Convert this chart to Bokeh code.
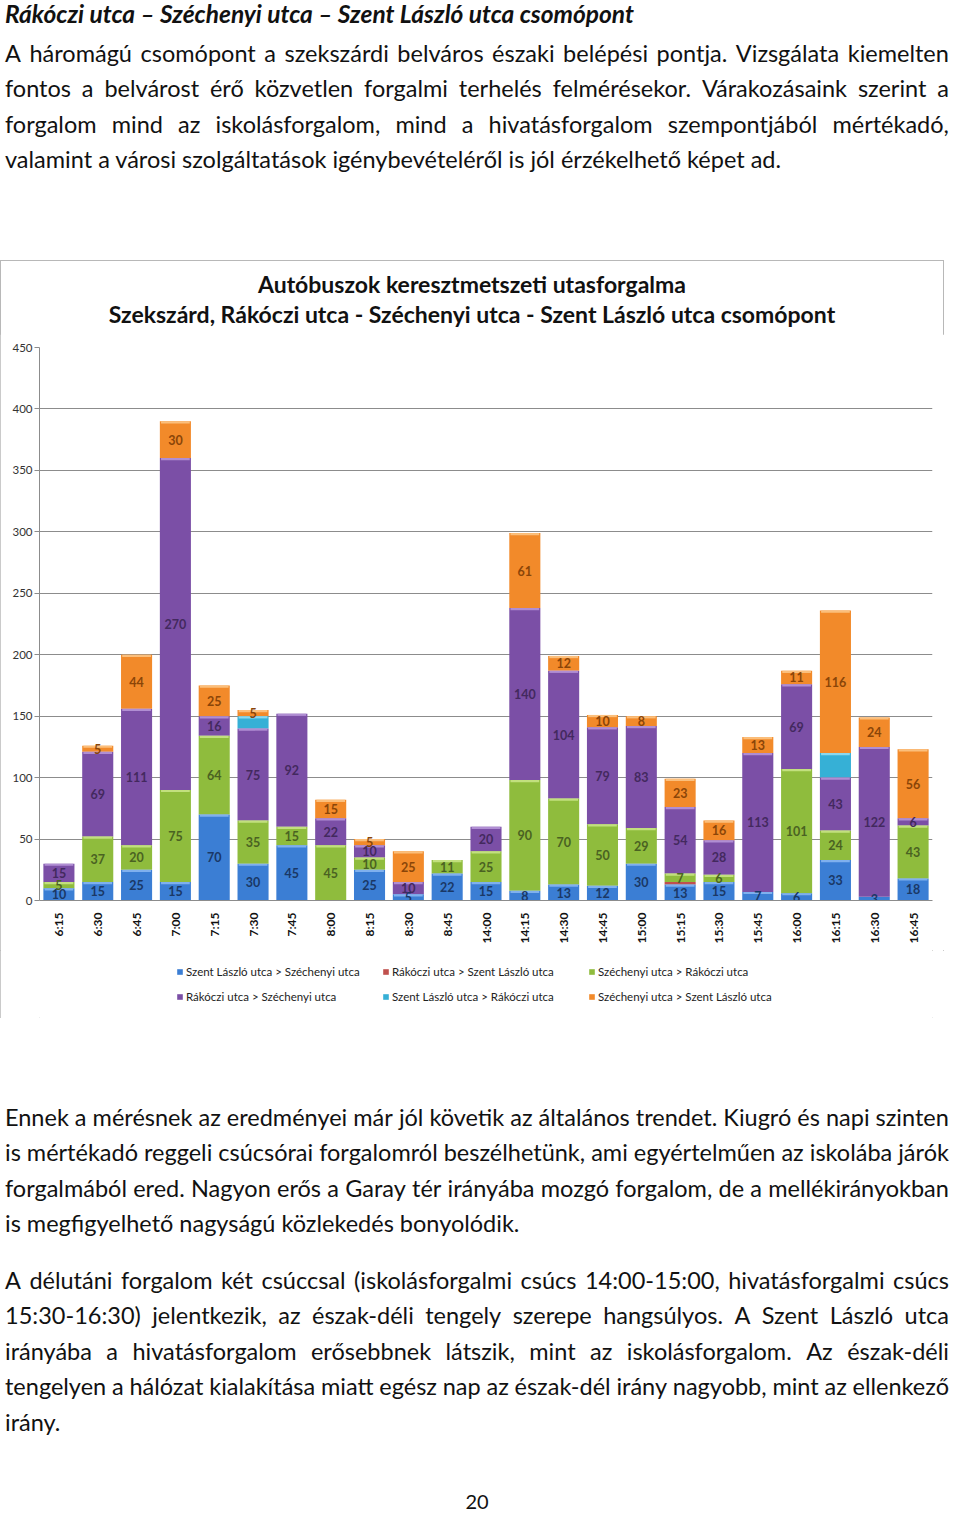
import numpy as np
from bokeh.plotting import figure
from bokeh.models import ColumnDataSource, Div, Legend, LegendItem
from bokeh.layouts import column
from bokeh.embed import file_html
from bokeh.resources import INLINE
from bokeh.core.properties import value

# ---------------- data ----------------
times = ["6:15", "6:30", "6:45", "7:00", "7:15", "7:30", "7:45", "8:00", "8:15", "8:30", "8:45",
         "14:00", "14:15", "14:30", "14:45", "15:00", "15:15", "15:30", "15:45", "16:00", "16:15", "16:30", "16:45"]

szl_szech = [10, 15, 25, 15, 70, 30, 45, 0, 25, 5, 22, 15, 8, 13, 12, 30, 13, 15, 7, 6, 33, 3, 18]
rak_szl   = [0, 0, 0, 0, 0, 0, 0, 0, 0, 0, 0, 0, 0, 0, 0, 0, 2, 0, 0, 0, 0, 0, 0]
szech_rak = [5, 37, 20, 75, 64, 35, 15, 45, 10, 0, 11, 25, 90, 70, 50, 29, 7, 6, 0, 101, 24, 0, 43]
rak_szech = [15, 69, 111, 270, 16, 75, 92, 22, 10, 10, 0, 20, 140, 104, 79, 83, 54, 28, 113, 69, 43, 122, 6]
szl_rak   = [0, 0, 0, 0, 0, 10, 0, 0, 0, 0, 0, 0, 0, 0, 0, 0, 0, 0, 0, 0, 20, 0, 0]
szech_szl = [0, 5, 44, 30, 25, 5, 0, 15, 5, 25, 0, 0, 61, 12, 10, 8, 23, 16, 13, 11, 116, 24, 56]

series_keys = ["szl_szech", "rak_szl", "szech_rak", "rak_szech", "szl_rak", "szech_szl"]
series_vals = [szl_szech, rak_szl, szech_rak, rak_szech, szl_rak, szech_szl]
series_names = ["Szent László utca > Széchenyi utca", "Rákóczi utca > Szent László utca",
                "Széchenyi utca > Rákóczi utca", "Rákóczi utca > Széchenyi utca",
                "Szent László utca > Rákóczi utca", "Széchenyi utca > Szent László utca"]
series_labeled = [True, False, True, True, False, True]

y_ticks = [0, 50, 100, 150, 200, 250, 300, 350, 400, 450]

chart_title_1 = "Autóbuszok keresztmetszeti utasforgalma"
chart_title_2 = "Szekszárd, Rákóczi utca - Széchenyi utca - Szent László utca csomópont"

heading = "Rákóczi utca – Széchenyi utca – Szent László utca csomópont"
para1 = ["A háromágú csomópont a szekszárdi belváros északi belépési pontja. Vizsgálata kiemelten",
         "fontos a belvárost érő közvetlen forgalmi terhelés felmérésekor. Várakozásaink szerint a",
         "forgalom mind az iskolásforgalom, mind a hivatásforgalom szempontjából mértékadó,",
         "valamint a városi szolgáltatások igénybevételéről is jól érzékelhető képet ad."]
para2 = ["Ennek a mérésnek az eredményei már jól követik az általános trendet. Kiugró és napi szinten",
         "is mértékadó reggeli csúcsórai forgalomról beszélhetünk, ami egyértelműen az iskolába járók",
         "forgalmából ered. Nagyon erős a Garay tér irányába mozgó forgalom, de a mellékirányokban",
         "is megfigyelhető nagyságú közlekedés bonyolódik."]
para3 = ["A délutáni forgalom két csúccsal (iskolásforgalmi csúcs 14:00-15:00, hivatásforgalmi csúcs",
         "15:30-16:30) jelentkezik, az észak-déli tengely szerepe hangsúlyos. A Szent László utca",
         "irányába a hivatásforgalom erősebbnek látszik, mint az iskolásforgalom. Az észak-déli",
         "tengelyen a hálózat kialakítása miatt egész nap az észak-dél irány nagyobb, mint az ellenkező",
         "irány."]
page_no = "20"

# ---------------- styles ----------------
colors = ["#3b7ed4", "#c0504d", "#8fbc3d", "#7b4fa6", "#36b0d6", "#f28a2a"]
highlights = ["#7fb0ee", "#e08a88", "#c2e07e", "#b08ed3", "#8ad8ef", "#fbbf7c"]
label_colors = ["#1a3866", "#7a2020", "#4a6222", "#43295e", "#1d5f73", "#8a4508"]
FONT = "Lato"
W = 944
HT = 74       # chart title strip height
HC = 616      # chart figure height
HL = 68       # legend strip height
BL, BR, BT, BB = 39, 12, 13, 50
legend_pos = [(137, 40), (343, 40), (549, 40), (137, 15), (343, 15), (549, 15)]


def line_html(text, top, L, css, justify):
    base = f"position:absolute;left:0;top:{top}px;width:{W}px;height:{L}px;line-height:{L}px;white-space:nowrap;{css}"
    if justify:
        spans = "".join(f"<span>{w}</span>" for w in text.split(" "))
        return f'<div style="{base}display:flex;justify-content:space-between;">{spans}</div>'
    return f'<div style="{base}">{text}</div>'


def block(lines, first_top, L, css):
    out = []
    for i, t in enumerate(lines):
        out.append(line_html(t, first_top + i * L, L, css, i < len(lines) - 1))
    return "".join(out)


# ---------------- top text ----------------
txt_css = f"font-family:{FONT};font-size:23.5px;color:#111;"
html1 = '<div style="position:relative;width:944px;height:250px;">'
html1 += line_html(heading, 0, 18, f"font-family:{FONT};font-size:24.5px;font-weight:bold;font-style:italic;color:#111;", False)
html1 += block(para1, 30.5, 35.5, txt_css)
html1 += "</div>"
div1 = Div(text=html1, width=W, height=250)

# ---------------- chart title strip ----------------
ttl_css = f"font-family:{FONT};font-size:23px;font-weight:bold;color:#111;text-align:center;"
html_t = f'<div style="position:relative;width:{W}px;height:{HT}px;">'
html_t += line_html(chart_title_1, 9, 30, ttl_css, False)
html_t += line_html(chart_title_2, 39, 30, ttl_css, False)
html_t += "</div>"
title_div = Div(text=html_t, width=W, height=HT, margin=0)

# ---------------- chart ----------------
p = figure(x_range=times, y_range=(0, 450), width=W, height=HC,
           output_backend="svg", toolbar_location=None,
           min_border_left=BL, min_border_right=BR, min_border_top=BT, min_border_bottom=BB)

src = ColumnDataSource(dict(t=times, **{k: v for k, v in zip(series_keys, series_vals)}))
rs = p.vbar_stack(series_keys, x="t", width=0.8, source=src, color=colors, line_color=None)

cum = np.zeros(len(times))
for vals, lc, hc, show in zip(series_vals, label_colors, highlights, series_labeled):
    v = np.array(vals, dtype=float)
    top = cum + v
    mid = cum + v / 2
    hi = [i for i in range(len(times)) if v[i] >= 4]
    p.vbar(x=[times[i] for i in hi], top=[top[i] for i in hi], bottom=[top[i] - 1.8 for i in hi],
           width=0.74, color=hc, line_color=None)
    if show:
        idx = [i for i in range(len(times)) if v[i] > 0]
        p.text(x=[times[i] for i in idx], y=[mid[i] for i in idx], text=[str(int(v[i])) for i in idx],
               text_align="center", text_baseline="middle", text_color=lc,
               text_font=value(FONT), text_font_size="12.5px", text_font_style="bold")
    cum += v

p.outline_line_color = None
p.xgrid.grid_line_color = None
p.ygrid.grid_line_color = "#8c8c8c"
p.ygrid.grid_line_width = 1
p.yaxis.ticker = y_ticks
p.yaxis.axis_line_color = "#8c8c8c"
p.yaxis.major_tick_line_color = "#8c8c8c"
p.yaxis.major_tick_in = 0
p.yaxis.major_tick_out = 5
p.yaxis.minor_tick_line_color = None
p.yaxis.major_label_standoff = 2
p.yaxis.major_label_text_font = FONT
p.yaxis.major_label_text_font_size = "11.5px"
p.yaxis.major_label_text_color = "#333"
p.xaxis.axis_line_color = "#8c8c8c"
p.xaxis.major_tick_line_color = None
p.xaxis.major_label_orientation = np.pi / 2
p.xaxis.major_label_text_font = FONT
p.xaxis.major_label_text_font_size = "12px"
p.xaxis.major_label_text_font_style = "bold"
p.xaxis.major_label_text_color = "#111"
p.xaxis.major_label_standoff = 6

# ---------------- legend strip ----------------
pl = figure(width=W, height=HL, x_range=(0, 1), y_range=(0, 1), output_backend="svg",
            toolbar_location=None, min_border=0, x_axis_type=None, y_axis_type=None)
pl.outline_line_color = None
# swatch renderers sit outside the visible range; they only feed the legend glyphs
dummies = [pl.vbar(x=[5], top=[5], bottom=[4], width=0.5, color=c, line_color=None) for c in colors]
for i, (lx, ly) in enumerate(legend_pos):
    lg = Legend(items=[LegendItem(label=series_names[i], renderers=[dummies[i]])],
                location=(lx, ly), orientation="horizontal",
                glyph_width=7, glyph_height=7, label_height=14, label_standoff=3,
                label_text_font=FONT, label_text_font_size="11.5px", label_text_color="#222",
                border_line_color=None, background_fill_alpha=0, margin=0, padding=0)
    pl.add_layout(lg)

chart_box = column(title_div, p, pl, spacing=0,
                   styles={"outline": "1px solid #b8b8b8", "outline-offset": "-1px"})

# ---------------- bottom text ----------------
html2 = '<div style="position:relative;width:944px;height:489px;">'
html2 += block(para2, 76.5, 35.5, txt_css)
html2 += block(para3, 239.5, 35.5, txt_css)
html2 += f'<div style="position:absolute;left:0;top:470px;width:{W}px;height:16px;line-height:16px;text-align:center;font-family:{FONT};font-size:20px;color:#111;">{page_no}</div>'
html2 += "</div>"
div2 = Div(text=html2, width=W, height=489)

layout = column(div1, chart_box, div2, spacing=0)
open("out.html", "w").write(file_html(layout, INLINE))
